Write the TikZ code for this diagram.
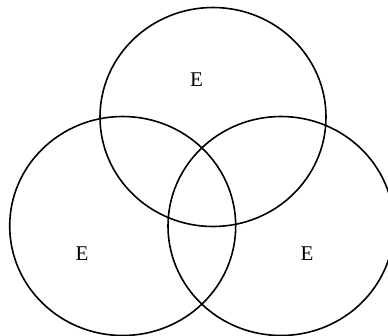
\documentclass[tikz,border=0pt]{standalone}
\usepackage{fontspec}
\setmainfont{Liberation Serif}
\usetikzlibrary{shapes.geometric}
\begin{document}
\begin{tikzpicture}[x=1pt,y=-1pt,
  ring/.style={draw=black,line width=1.6pt,ellipse,minimum width=226pt,minimum height=219pt,inner sep=0pt},
  lbl/.style={font=\fontsize{21}{25}\selectfont,inner sep=0pt}]
\useasboundingbox (0,0) rectangle (388,335);
\clip (0,0) rectangle (388,335);
\node[ring] (top) at (213,117) {};
\node[ring] (left) at (122.7,226) {};
\node[ring] (right) at (281,226) {};
\node[lbl] (ltop) at (196.5,80) {E};
\node[lbl] (lleft) at (82,254) {E};
\node[lbl] (lright) at (307,254) {E};
\end{tikzpicture}
\end{document}
